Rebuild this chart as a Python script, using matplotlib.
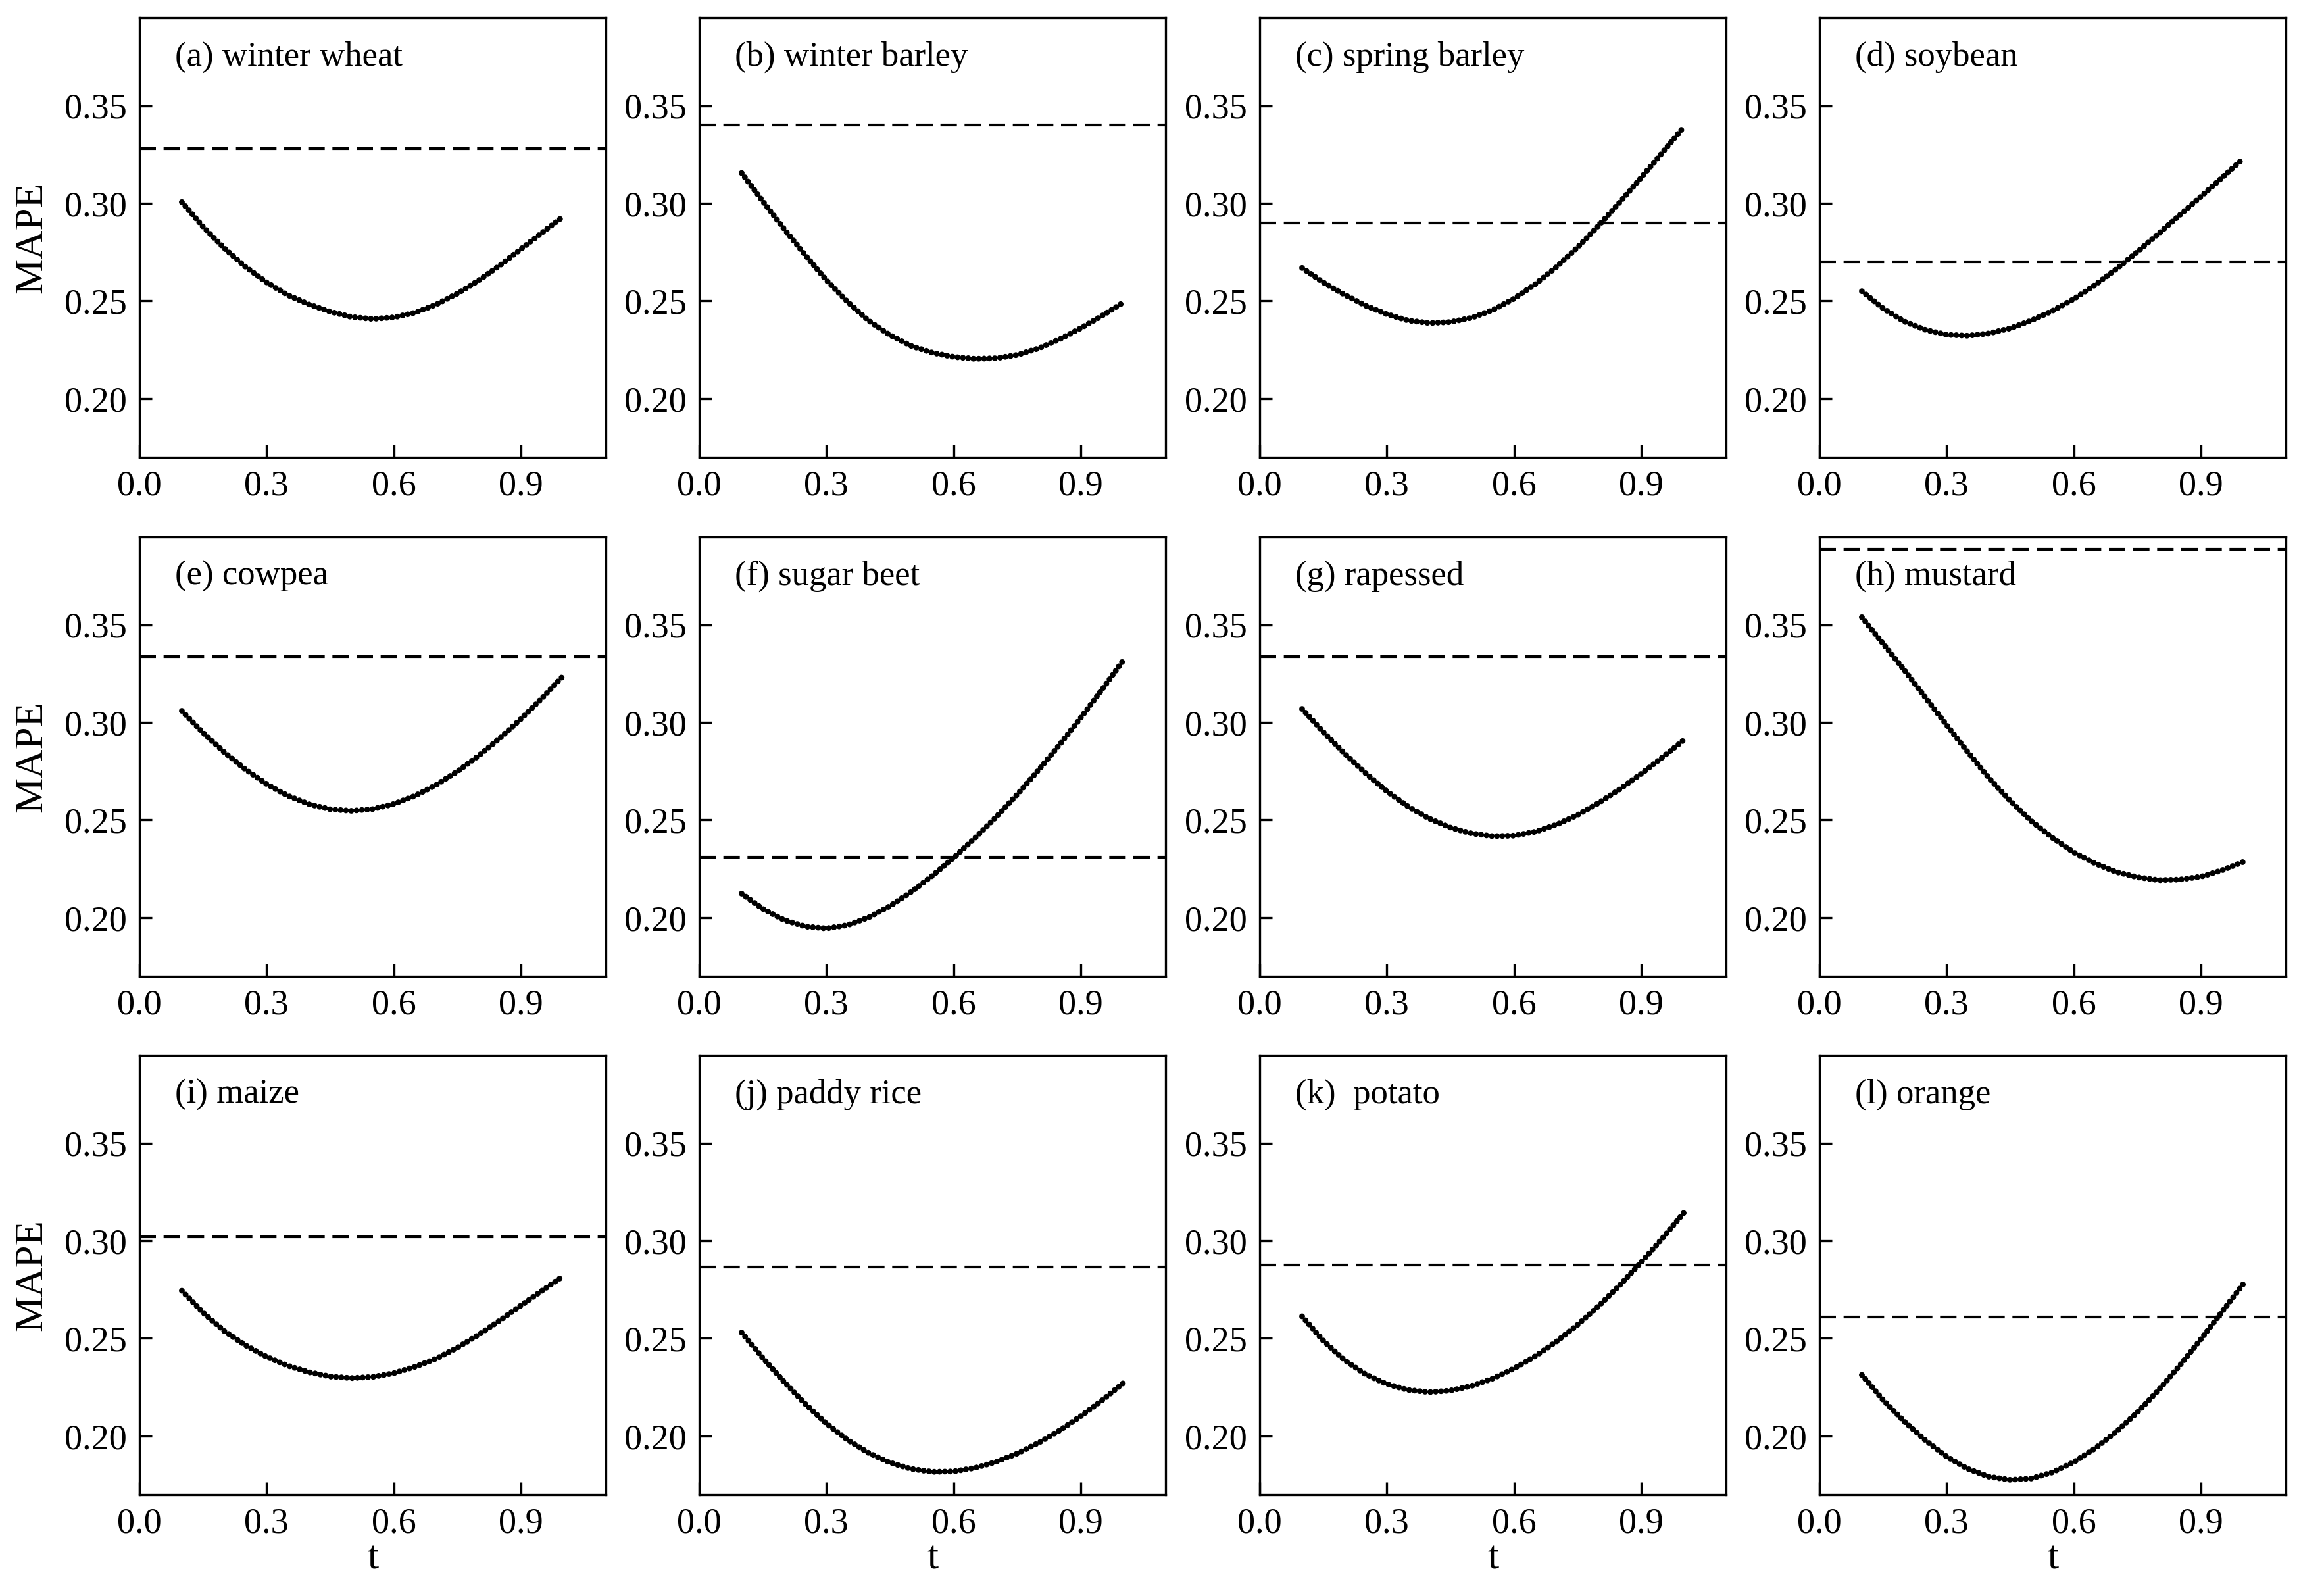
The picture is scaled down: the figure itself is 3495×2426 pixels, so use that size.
import matplotlib
matplotlib.use("Agg")
import matplotlib.pyplot as plt
import numpy as np

plt.rcParams['font.family'] = ['Liberation Serif', 'DejaVu Serif']

t = [0.10, 0.15, 0.20, 0.25, 0.30, 0.35, 0.40, 0.45, 0.50, 0.55,
     0.60, 0.65, 0.70, 0.75, 0.80, 0.85, 0.90, 0.95, 1.00]

titles = ["(a) winter wheat", "(b) winter barley", "(c) spring barley", "(d) soybean",
          "(e) cowpea", "(f) sugar beet", "(g) rapessed", "(h) mustard",
          "(i) maize", "(j) paddy rice", "(k)  potato", "(l) orange"]

winter_wheat = [0.3006, 0.2880, 0.2770, 0.2675, 0.2595, 0.2530, 0.2482, 0.2445, 0.2418, 0.2408,
                0.2416, 0.2440, 0.2482, 0.2538, 0.2605, 0.2682, 0.2766, 0.2850, 0.2933]
winter_barley = [0.3155, 0.3010, 0.2869, 0.2735, 0.2606, 0.2495, 0.2398, 0.2325, 0.2270, 0.2235,
                 0.2214, 0.2204, 0.2207, 0.2224, 0.2257, 0.2304, 0.2361, 0.2424, 0.2492]
spring_barley = [0.2669, 0.2595, 0.2532, 0.2476, 0.2432, 0.2400, 0.2387, 0.2392, 0.2414, 0.2454,
                 0.2512, 0.2586, 0.2674, 0.2775, 0.2887, 0.3007, 0.3132, 0.3260, 0.3390]
soybean = [0.2550, 0.2462, 0.2395, 0.2352, 0.2327, 0.2322, 0.2334, 0.2360, 0.2400, 0.2450,
           0.2510, 0.2582, 0.2663, 0.2752, 0.2845, 0.2940, 0.3035, 0.3132, 0.3230]
cowpea = [0.3059, 0.2947, 0.2847, 0.2759, 0.2684, 0.2624, 0.2581, 0.2555, 0.2547, 0.2556,
          0.2582, 0.2624, 0.2680, 0.2749, 0.2829, 0.2919, 0.3018, 0.3125, 0.3239]
sugar_beet = [0.2123, 0.2045, 0.1988, 0.1955, 0.1945, 0.1962, 0.2002, 0.2060, 0.2132, 0.2215,
              0.2307, 0.2407, 0.2515, 0.2631, 0.2755, 0.2886, 0.3024, 0.3168, 0.3317]
rapessed = [0.3069, 0.2951, 0.2841, 0.2739, 0.2647, 0.2569, 0.2507, 0.2461, 0.2431, 0.2417,
            0.2420, 0.2440, 0.2476, 0.2526, 0.2588, 0.2659, 0.2737, 0.2821, 0.2909]
mustard = [0.3538, 0.3403, 0.3268, 0.3127, 0.2986, 0.2848, 0.2714, 0.2598, 0.2494, 0.2408,
           0.2334, 0.2278, 0.2234, 0.2207, 0.2192, 0.2195, 0.2210, 0.2243, 0.2286]
maize = [0.2744, 0.2632, 0.2538, 0.2465, 0.2406, 0.2360, 0.2327, 0.2305, 0.2297, 0.2303,
         0.2322, 0.2355, 0.2397, 0.2453, 0.2519, 0.2592, 0.2669, 0.2745, 0.2820]
paddy_rice = [0.2530, 0.2400, 0.2278, 0.2165, 0.2064, 0.1980, 0.1913, 0.1864, 0.1832, 0.1817,
              0.1819, 0.1837, 0.1868, 0.1911, 0.1965, 0.2029, 0.2102, 0.2183, 0.2271]
potato = [0.2613, 0.2488, 0.2389, 0.2316, 0.2266, 0.2236, 0.2225, 0.2233, 0.2257, 0.2295,
          0.2346, 0.2409, 0.2484, 0.2570, 0.2667, 0.2774, 0.2890, 0.3013, 0.3142]
orange = [0.2313, 0.2185, 0.2075, 0.1978, 0.1895, 0.1832, 0.1792, 0.1776, 0.1783, 0.1815,
          0.1867, 0.1937, 0.2022, 0.2122, 0.2236, 0.2362, 0.2497, 0.2638, 0.2780]

curves = [winter_wheat, winter_barley, spring_barley, soybean,
          cowpea, sugar_beet, rapessed, mustard,
          maize, paddy_rice, potato, orange]

# baseline MAPE (dashed lines)
baseline = [0.328, 0.340, 0.290, 0.270,
            0.3337, 0.2308, 0.3337, 0.3887,
            0.302, 0.2865, 0.2875, 0.2609]

xticks = [0.0, 0.3, 0.6, 0.9]
xticklabels = ["0.0", "0.3", "0.6", "0.9"]
yticks = [0.20, 0.25, 0.30, 0.35]
yticklabels = ["0.20", "0.25", "0.30", "0.35"]

W, H = 3495, 2426
fig = plt.figure(figsize=(W / 200, H / 200), dpi=200)

col_left = [212, 1063, 1915, 2766]
row_top = [27, 816, 1604]
aw, ah = 709, 668

for i in range(12):
    r, c = divmod(i, 4)
    ax = fig.add_axes([col_left[c] / W, 1 - (row_top[r] + ah) / H, aw / W, ah / H])
    ax.plot(t, curves[i], color='black', linestyle=(0, (0.01, 0.9)),
            linewidth=3.2, dash_capstyle='round', solid_capstyle='round',
            solid_joinstyle='round')
    ax.axhline(baseline[i], color='black', linewidth=1.5, linestyle=(0, (6, 2.8)))
    ax.set_xlim(0.0, 1.1)
    ax.set_ylim(0.17, 0.395)
    ax.set_xticks(xticks)
    ax.set_xticklabels(xticklabels)
    ax.set_yticks(yticks)
    ax.set_yticklabels(yticklabels)
    ax.tick_params(direction='in', length=7, width=1.2, labelsize=19.5, pad=7,
                   top=False, right=False)
    for s in ax.spines.values():
        s.set_linewidth(1.2)
    ax.text(0.076, 0.91, titles[i], transform=ax.transAxes, fontsize=19,
            ha='left', va='center')
    if c == 0:
        ax.set_ylabel("MAPE", fontsize=22)
        ax.yaxis.set_label_coords(-0.192, 0.5)
    if r == 2:
        ax.set_xlabel("t", fontsize=22)
        ax.xaxis.set_label_coords(0.5, -0.105)

fig.savefig("out.png", dpi=200)
